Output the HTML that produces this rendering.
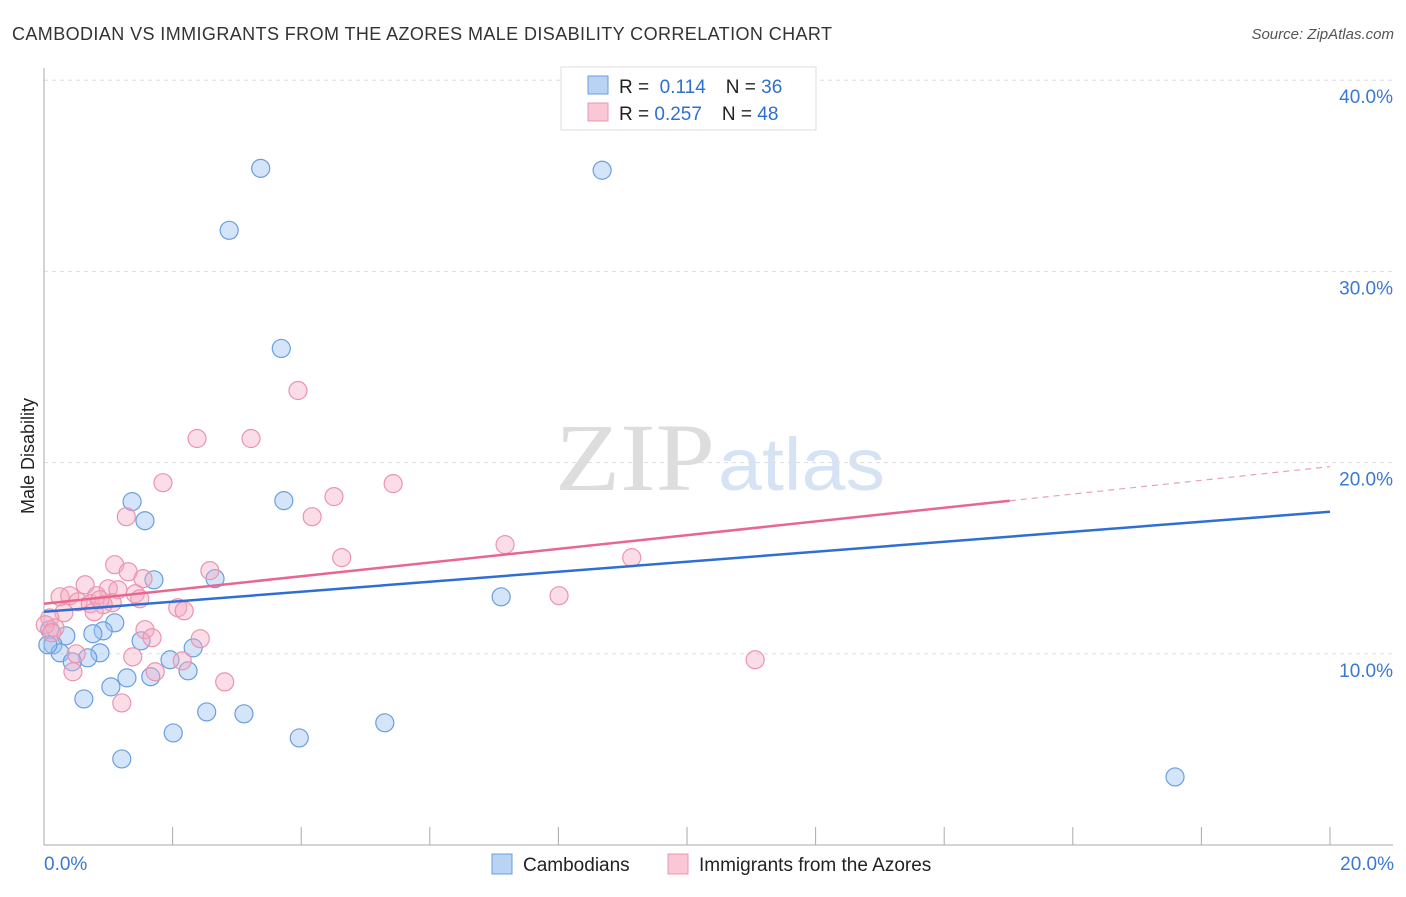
<!DOCTYPE html>
<html><head><meta charset="utf-8"><style>
body{margin:0;background:#fff;font-family:"Liberation Sans",sans-serif}
svg text{font-family:"Liberation Sans",sans-serif}
</style></head><body>
<svg id="c" width="1406" height="892">
<text x="12" y="40" font-size="18" fill="#333" textLength="820" lengthAdjust="spacing">CAMBODIAN VS IMMIGRANTS FROM THE AZORES MALE DISABILITY CORRELATION CHART</text>
<text x="1394" y="39" font-size="15" fill="#555" font-style="italic" text-anchor="end">Source: ZipAtlas.com</text>
<text x="555" y="490" font-size="96" fill="#ddd" textLength="160" lengthAdjust="spacingAndGlyphs" style="font-family:'Liberation Serif',serif">ZIP</text>
<text x="718" y="490" font-size="74" fill="#d6e3f5" textLength="167" lengthAdjust="spacingAndGlyphs">atlas</text>
<text transform="translate(34,456) rotate(-90)" font-size="18" fill="#222" text-anchor="middle">Male Disability</text>
<g id="grid"></g><g id="pts"></g><g id="trend"></g>
<g>
<rect x="561" y="67" width="255" height="63" fill="#fff" stroke="#ddd"/>
<rect x="588" y="76" width="20" height="18" fill="#b9d3f5" stroke="#6b9ee0"/>
<rect x="588" y="103" width="20" height="18" fill="#f9c7d6" stroke="#ec95ae"/>
<text x="619" y="93" font-size="19" fill="#222">R = <tspan fill="#2e6fd0">&#160;0.114</tspan><tspan dx="20" fill="#222">N = </tspan><tspan fill="#2e6fd0">36</tspan></text>
<text x="619" y="120" font-size="19" fill="#222">R = <tspan fill="#2e6fd0">0.257</tspan><tspan dx="20" fill="#222">N = </tspan><tspan fill="#2e6fd0">48</tspan></text>
</g>
<g>
<rect x="492" y="854" width="20" height="20" fill="#b9d3f5" stroke="#6b9ee0"/>
<text x="523" y="871" font-size="19" fill="#222">Cambodians</text>
<rect x="668" y="854" width="20" height="20" fill="#f9c7d6" stroke="#ec95ae"/>
<text x="699" y="871" font-size="19" fill="#222">Immigrants from the Azores</text>
</g>
</svg>
<script>
const yTicks=[10,20,30,40];
const yTickLabels=["10.0%","20.0%","30.0%","40.0%"];
const xTickLabels=["0.0%","20.0%"];
const blueX=[3.37,8.68,2.88,3.69,1.37,3.73,1.57,1.71,2.66,7.11,1.10,0.92,0.76,0.34,0.09,0.14,0.25,0.87,0.68,0.44,1.51,2.32,1.96,2.24,1.29,1.66,1.04,0.62,2.53,3.11,5.30,2.01,3.97,1.21,17.59,0.06];
const blueY=[35.39,35.29,32.15,25.97,17.96,18.01,16.96,13.87,13.93,12.98,11.62,11.20,11.05,10.94,11.26,10.47,10.05,10.05,9.79,9.58,10.68,10.31,9.69,9.11,8.74,8.80,8.27,7.64,6.96,6.86,6.39,5.86,5.60,4.50,3.56,10.47];
const pinkX=[3.95,2.38,3.22,1.85,5.43,4.51,1.28,4.17,7.17,4.63,9.14,1.10,1.31,2.58,1.54,0.64,1.00,0.25,0.40,0.82,1.42,1.15,1.49,1.06,0.53,0.72,0.92,0.31,0.78,2.08,2.18,8.01,0.09,0.17,1.57,1.68,2.43,0.50,1.38,2.15,1.73,0.45,2.81,1.21,11.06,0.02,0.12,0.87];
const pinkY=[23.77,21.26,21.26,18.95,18.90,18.22,17.17,17.17,15.71,15.03,15.03,14.66,14.29,14.35,13.93,13.61,13.40,12.98,13.04,13.04,13.14,13.35,12.88,12.67,12.72,12.62,12.57,12.15,12.20,12.41,12.25,13.04,11.88,11.36,11.26,10.84,10.79,10.00,9.84,9.63,9.06,9.06,8.53,7.43,9.69,11.52,11.10,12.83];
const blueTrend=[12.20,17.43];
const pinkTrend=[12.62,19.79];
const pinkSolidEnd=15.02;
const NS="http://www.w3.org/2000/svg";
const sx=v=>44+v*64.3, sy=v=>845-v*19.12;
function mk(t,a,p){const e=document.createElementNS(NS,t);for(const k in a)e.setAttribute(k,a[k]);p.appendChild(e);return e;}
const g=document.getElementById('grid');
yTicks.forEach((t,i)=>{
 const l=mk('line',{x1:44,x2:1393,y1:sy(t),y2:sy(t),stroke:'#ddd','stroke-dasharray':'4,4'},g);
 
 
 const tx=mk('text',{x:1393,y:sy(t)+23,'font-size':19,fill:'#3a78d4','text-anchor':'end'},g);
 tx.textContent=yTickLabels[i];
 
 
});
let ax=mk('line',{x1:44,x2:44,y1:68,y2:845,stroke:'#aaa'},g);


ax=mk('line',{x1:44,x2:1393,y1:845,y2:845,stroke:'#aaa'},g);


for(let v=2;v<=20;v+=2){const t=mk('line',{x1:sx(v),x2:sx(v),y1:827,y2:845,stroke:'#aaa'},g);
 
 }
[[0,'start',0],[20,'end',20]].forEach((d,i)=>{const t=mk('text',{x:sx(d[0])+(i?64:0),y:870,'font-size':19,fill:'#3a78d4','text-anchor':d[1]},g);
 t.textContent=xTickLabels[i];
 
 });
const p=document.getElementById('pts');
blueX.forEach((x,i)=>{const c=mk('circle',{cx:sx(x),cy:sy(blueY[i]),r:9,fill:'rgba(150,190,240,0.4)',stroke:'#6a9ee0','stroke-width':1.2},p);
 
 });
pinkX.forEach((x,i)=>{const c=mk('circle',{cx:sx(x),cy:sy(pinkY[i]),r:9,fill:'rgba(245,170,195,0.4)',stroke:'#ec93ad','stroke-width':1.2},p);
 
 });
const tr=document.getElementById('trend');
let l=mk('line',{x1:sx(0),y1:sy(blueTrend[0]),x2:sx(20),y2:sy(blueTrend[1]),stroke:'#2f6fd3','stroke-width':2.5},tr);


const pe=pinkTrend[0]+(pinkTrend[1]-pinkTrend[0])*pinkSolidEnd/20;
l=mk('line',{x1:sx(0),y1:sy(pinkTrend[0]),x2:sx(pinkSolidEnd),y2:sy(pe),stroke:'#e8678f','stroke-width':2.5},tr);


l=mk('line',{x1:sx(pinkSolidEnd),y1:sy(pe),x2:sx(20),y2:sy(pinkTrend[1]),stroke:'#e8a0b5','stroke-width':1.2,'stroke-dasharray':'6,5'},tr);


</script>
</body></html>
